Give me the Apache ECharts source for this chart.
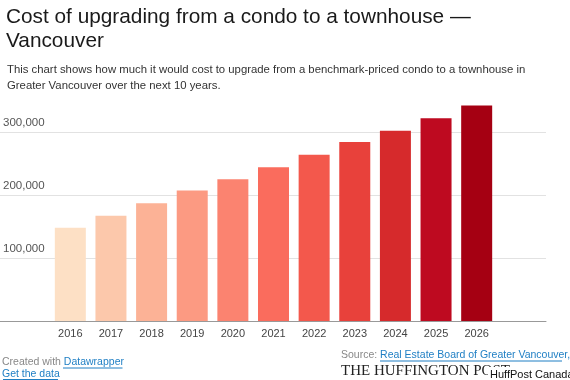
<!DOCTYPE html>
<html><head><meta charset="utf-8">
<script src="https://cdn.jsdelivr.net/npm/echarts@6/dist/echarts.min.js"></script>
<style>html,body{margin:0;padding:0;background:#fff}#c{width:570px;height:380px}</style>
</head><body><div id="c"></div>
<script>
const years = ['2016','2017','2018','2019','2020','2021','2022','2023','2024','2025','2026'];
const costs = [148000,167000,187000,207000,225000,244000,264000,284000,302000,322000,342000];
const barColors = ['#fde0c5','#fcc8ab','#fcb296','#fc9a82','#fb8370','#fa6c5d','#f3584c','#e8413b','#d62a2c','#be0a20','#a50012'];
const yTicks = [0,100000,200000,300000];
const yMax = 350000;

const FF = '"Liberation Sans", Arial, sans-serif';
const chart = echarts.init(document.getElementById('c'), null, {renderer:'canvas'});
chart.setOption({
  animation:false,
  title:[
    {text:'Cost of upgrading from a condo to a townhouse —\nVancouver', left:1, top:0,
     textStyle:{fontFamily:FF, fontSize:20.8, lineHeight:24, fontWeight:'normal', color:'#1a1a1a'}},
    {text:'This chart shows how much it would cost to upgrade from a benchmark-priced condo to a townhouse in\nGreater Vancouver over the next 10 years.', left:2, top:57,
     textStyle:{fontFamily:FF, fontSize:11.35, lineHeight:16, fontWeight:'normal', color:'#333'}}
  ],
  grid:[
    {left:0, right:24, top:100.5, bottom:59},
    {left:50, right:73, top:100.5, bottom:59}
  ],
  xAxis:[
    {gridIndex:0, type:'value', min:0, max:1, axisLine:{show:true, lineStyle:{color:'#999', width:1}}, axisTick:{show:false}, axisLabel:{show:false}, splitLine:{show:false}},
    {gridIndex:1, type:'category', data:years, axisLine:{show:false}, axisTick:{show:false},
     axisLabel:{fontFamily:FF, fontSize:11, color:'#444', margin:7}}
  ],
  yAxis:[
    {gridIndex:0, type:'value', min:0, max:yMax, interval:100000, axisLine:{show:false}, axisTick:{show:false},
     splitLine:{show:true, showMaxLine:false, showMinLine:false, lineStyle:{color:'#e2e2e2', width:1}},
     axisLabel:{inside:true, margin:3, verticalAlign:'bottom', padding:[0,0,3,0], fontFamily:FF, fontSize:11.5, color:'#555',
       showMaxLabel:false,
       formatter:function(v){ return (v===0 || yTicks.indexOf(v)<0) ? '' : v.toLocaleString('en-US'); }}},
    {gridIndex:1, type:'value', min:0, max:yMax, interval:100000, show:false}
  ],
  series:[{
    type:'bar', xAxisIndex:1, yAxisIndex:1, barWidth:31,
    data: costs.map((v,i)=>({value:v, itemStyle:{color:barColors[i]}}))
  }],
  graphic:[
    {type:'text', left:2, top:357, style:{text:'{g|Created with }{l|Datawrapper}', rich:{g:{fontFamily:FF,fontSize:10.5,fill:'#888'}, l:{fontFamily:FF,fontSize:10.5,fill:'#1f7fc4'}}}},
    {type:'line', shape:{x1:63, y1:368, x2:122.5, y2:368}, style:{stroke:'#1f7fc4', lineWidth:1}},
    {type:'text', left:2, top:369, style:{text:'Get the data', fontFamily:FF, fontSize:10.5, fill:'#1f7fc4'}},
    {type:'line', shape:{x1:3, y1:379.5, x2:58, y2:379.5}, style:{stroke:'#1f7fc4', lineWidth:1}},
    {type:'text', left:341, top:350, style:{text:'{g|Source: }{l|Real Estate Board of Greater Vancouver,}', rich:{g:{fontFamily:FF,fontSize:10.5,fill:'#888'}, l:{fontFamily:FF,fontSize:10.5,fill:'#1f7fc4'}}}},
    {type:'line', shape:{x1:380, y1:361, x2:562, y2:361}, style:{stroke:'#1f7fc4', lineWidth:1}},
    {type:'text', left:341, top:364, style:{text:'THE HUFFINGTON POST', fontFamily:'"Liberation Serif", "Times New Roman", serif', fontSize:15, fill:'#222'}},
    {type:'text', left:488, top:367, z:10, style:{text:'HuffPost Canada', fontFamily:FF, fontSize:11, fill:'#111', backgroundColor:'#fff', padding:[2,8,3,2]}}
  ]
});
</script></body></html>
